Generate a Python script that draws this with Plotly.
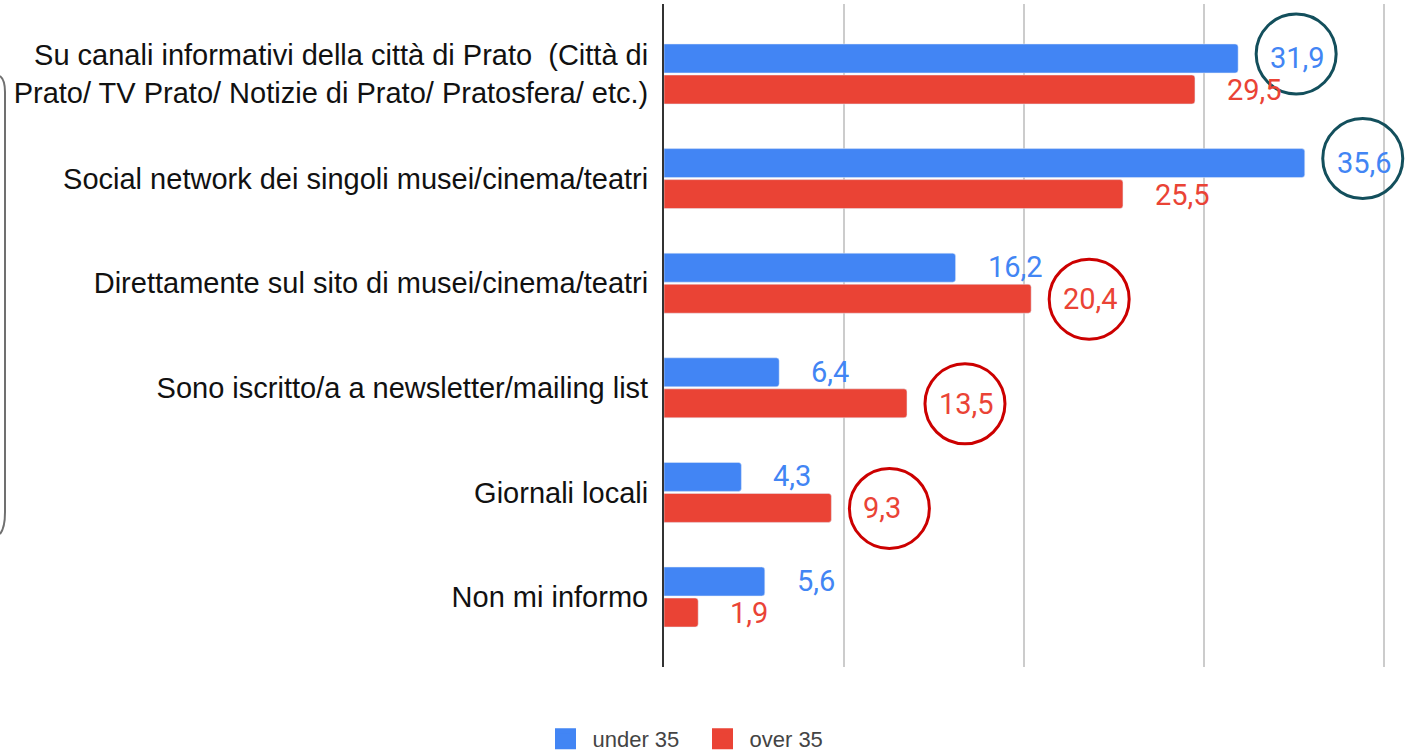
import plotly.graph_objects as go

categories = [
    "Su canali informativi della città di Prato&nbsp; (Città di<br>Prato/ TV Prato/ Notizie di Prato/ Pratosfera/ etc.)",
    "Social network dei singoli musei/cinema/teatri",
    "Direttamente sul sito di musei/cinema/teatri",
    "Sono iscritto/a a newsletter/mailing list",
    "Giornali locali",
    "Non mi informo",
]
under_35 = [31.9, 35.6, 16.2, 6.4, 4.3, 5.6]
over_35 = [29.5, 25.5, 20.4, 13.5, 9.3, 1.9]

# valori cerchiati a mano nell'immagine originale (indice categoria)
circled_under = [0, 1]
circled_over = [2, 3, 4]

BLUE = "#4285f4"
RED = "#ea4335"
TEAL = "#134f5c"
DARKRED = "#cc0000"

W, H = 1405, 754
L, T, B = 664, 4, 87


def fmt(v):
    return f"{v:.1f}".replace(".", ",")


def pxx(px):
    return (px - L) / (W - L)


def pxy(py):
    return (H - B - py) / (H - T - B)


fig = go.Figure()
fig.add_trace(go.Bar(y=categories, x=under_35, orientation="h", name="under 35",
                     marker_color=BLUE, showlegend=False))
fig.add_trace(go.Bar(y=categories, x=over_35, orientation="h", name="over 35",
                     marker_color=RED, showlegend=False))

# voci di legenda (quadrati più grandi di quelli standard delle barre)
for name, col in [("under 35", BLUE), ("over 35", RED)]:
    fig.add_trace(go.Scatter(x=[None], y=[None], mode="markers", name=name,
                             marker=dict(symbol="square", size=16, color=col,
                                         line=dict(color=col, width=5))))

# etichette dei valori
for i, cat in enumerate(categories):
    fig.add_annotation(x=under_35[i], y=cat, text=fmt(under_35[i]), showarrow=False,
                       xanchor="left", xshift=30, yshift=16,
                       font=dict(family="Roboto", size=29, color=BLUE))
    fig.add_annotation(x=over_35[i], y=cat, text=fmt(over_35[i]), showarrow=False,
                       xanchor="left", xshift=30, yshift=-16,
                       font=dict(family="Roboto", size=29, color=RED))

# cerchi di evidenziazione
for idx in circled_under:
    fig.add_shape(type="circle", xref="x", yref="y", xsizemode="pixel", ysizemode="pixel",
                  xanchor=under_35[idx], yanchor=idx, x0=18, x1=98, y0=-20, y1=60,
                  line=dict(color=TEAL, width=3))
for idx in circled_over:
    fig.add_shape(type="circle", xref="x", yref="y", xsizemode="pixel", ysizemode="pixel",
                  xanchor=over_35[idx], yanchor=idx, x0=18, x1=98, y0=-56, y1=24,
                  line=dict(color=DARKRED, width=3))

# bordo arrotondato tagliato sul lato sinistro
path = (f"M {pxx(0)},{pxy(76)} Q {pxx(5)},{pxy(80)} {pxx(5)},{pxy(92)} "
        f"L {pxx(5)},{pxy(512)} Q {pxx(5)},{pxy(528)} {pxx(0)},{pxy(534)}")
fig.add_shape(type="path", xref="paper", yref="paper", path=path,
              line=dict(color="#707070", width=2))

fig.update_layout(
    width=W, height=H,
    margin=dict(l=L, r=0, t=T, b=B),
    paper_bgcolor="white", plot_bgcolor="white",
    barmode="group", bargap=0.407, bargroupgap=0.066, barcornerradius=3,
    xaxis=dict(range=[0, 41.17], dtick=10, showticklabels=False, showgrid=True,
               gridcolor="#cccccc", gridwidth=2, zeroline=False),
    yaxis=dict(categoryorder="array", categoryarray=categories, range=[5.669, -0.669],
               showline=True, linecolor="#333333", linewidth=2, ticks="", showgrid=False,
               ticklabelstandoff=8,
               tickfont=dict(family="Liberation Sans, Arial", size=29, color="#111111")),
    legend=dict(orientation="h", xref="container", x=0.495, xanchor="center",
                yref="container", y=0.02, yanchor="middle", itemwidth=44,
                entrywidth=98, entrywidthmode="pixels",
                font=dict(family="Liberation Sans, Arial", size=22, color="#444444")),
)

fig.write_html("out.html", config={"displayModeBar": False},
               post_script="document.body.style.margin='0';")
